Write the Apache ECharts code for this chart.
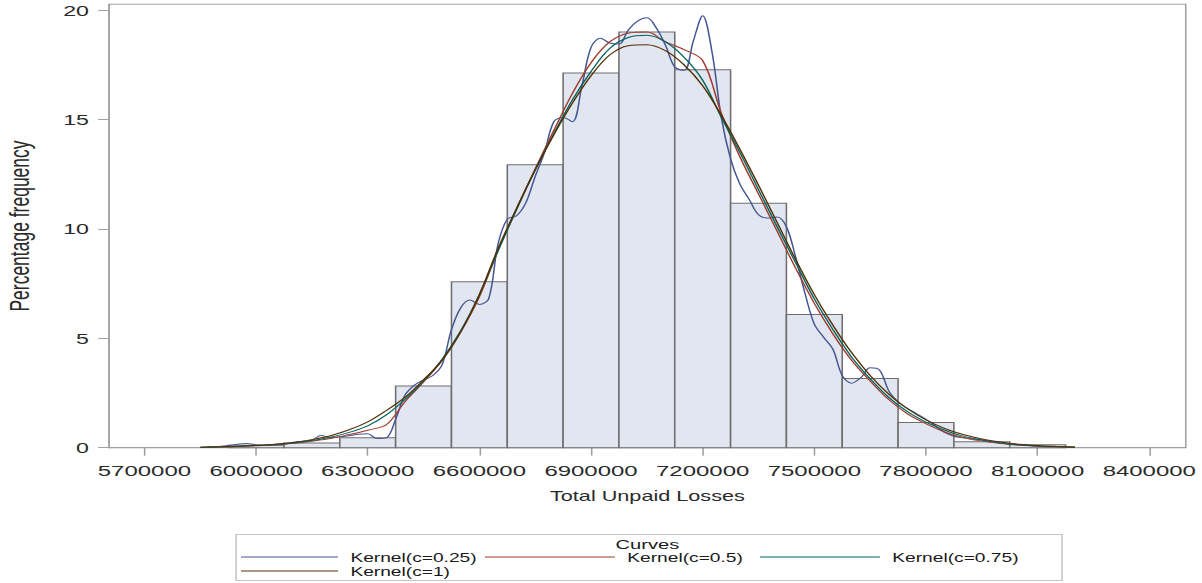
<!DOCTYPE html>
<html><head><meta charset="utf-8">
<script src="https://cdn.jsdelivr.net/npm/echarts@6/dist/echarts.min.js"></script>
<style>
html,body{margin:0;padding:0;background:#fff;overflow:hidden;width:1202px;height:583px;}
#wrap{width:1202px;height:583px;overflow:hidden;}
#chart{width:777px;height:583px;transform:scaleX(1.546975);transform-origin:0 0;}
</style></head><body><div id="wrap"><div id="chart"></div></div>
<script>
// ---- data ----
const xTickLabels = [5700000, 6000000, 6300000, 6600000, 6900000, 7200000, 7500000, 7800000, 8100000, 8400000];
const yTickLabels = [0, 5, 10, 15, 20];
const binWidth = 150000;
const binCenters = [6000000, 6150000, 6300000, 6450000, 6600000, 6750000, 6900000, 7050000, 7200000, 7350000, 7500000, 7650000, 7800000, 7950000, 8100000];
const binPercents = [0.11, 0.22, 0.45, 2.82, 7.59, 12.93, 17.13, 19.0, 17.28, 11.17, 6.09, 3.16, 1.15, 0.27, 0.14];
const curveNames = ['Kernel(c=0.25)', 'Kernel(c=0.5)', 'Kernel(c=0.75)', 'Kernel(c=1)'];
const legendTitle = 'Curves';

const x50 = [5850000, 5900000, 5950000, 6000000, 6050000, 6100000, 6150000, 6200000, 6250000, 6300000,
  6350000, 6400000, 6450000, 6500000, 6550000, 6600000, 6650000, 6700000, 6750000, 6800000,
  6850000, 6900000, 6950000, 7000000, 7050000, 7100000, 7150000, 7200000, 7250000, 7300000,
  7350000, 7400000, 7450000, 7500000, 7550000, 7600000, 7650000, 7700000, 7750000, 7800000,
  7850000, 7900000, 7950000, 8000000, 8050000, 8100000, 8150000, 8200000];
const kernel050 = [0.01, 0.03, 0.05, 0.09, 0.13, 0.2, 0.3, 0.42, 0.6, 0.8,
  1.05, 2.1, 3.0, 4.0, 5.3, 6.9, 9.0, 10.9, 12.75, 14.5,
  16.2, 17.6, 18.55, 18.95, 19.0, 18.55, 18.2, 17.7, 15.3, 13.3,
  11.6, 9.9, 8.2, 6.6, 5.2, 4.0, 3.05, 2.2, 1.55, 1.1,
  0.72, 0.47, 0.3, 0.19, 0.12, 0.07, 0.04, 0.02];
const kernel075 = [0.01, 0.03, 0.06, 0.1, 0.15, 0.22, 0.33, 0.48, 0.7, 1.0,
  1.5, 2.2, 3.05, 4.05, 5.35, 7.0, 9.0, 10.9, 12.7, 14.35,
  15.9, 17.2, 18.25, 18.75, 18.85, 18.55, 17.85, 16.8, 15.1, 13.5,
  11.8, 10.1, 8.45, 6.8, 5.4, 4.15, 3.15, 2.3, 1.65, 1.17,
  0.8, 0.53, 0.35, 0.22, 0.14, 0.08, 0.05, 0.02];
const kernel100 = [0.02, 0.04, 0.07, 0.11, 0.16, 0.24, 0.37, 0.55, 0.82, 1.18,
  1.7, 2.3, 3.1, 4.0, 5.3, 7.0, 9.1, 10.95, 12.7, 14.3,
  15.75, 17.0, 17.95, 18.38, 18.42, 18.15, 17.5, 16.55, 15.2, 13.65,
  12.0, 10.3, 8.6, 7.0, 5.6, 4.35, 3.3, 2.45, 1.78, 1.27,
  0.88, 0.6, 0.4, 0.26, 0.16, 0.1, 0.06, 0.03];

const x25 = [5850000, 5875000, 5900000, 5925000, 5950000, 5975000, 6000000, 6025000, 6050000, 6075000,
  6100000, 6125000, 6150000, 6175000, 6200000, 6225000, 6250000, 6275000, 6300000, 6325000,
  6350000, 6375000, 6400000, 6425000, 6450000, 6475000, 6500000, 6525000, 6550000, 6575000,
  6600000, 6625000, 6650000, 6675000, 6700000, 6725000, 6750000, 6775000, 6800000, 6825000,
  6850000, 6875000, 6900000, 6925000, 6950000, 6975000, 7000000, 7025000, 7050000, 7075000,
  7100000, 7125000, 7150000, 7175000, 7200000, 7225000, 7250000, 7275000, 7300000, 7325000,
  7350000, 7375000, 7400000, 7425000, 7450000, 7475000, 7500000, 7525000, 7550000, 7575000,
  7600000, 7625000, 7650000, 7675000, 7700000, 7725000, 7750000, 7775000, 7800000, 7825000,
  7850000, 7875000, 7900000, 7925000, 7950000, 7975000, 8000000, 8050000, 8100000, 8150000, 8200000];
const kernel025 = [0.02, 0.04, 0.06, 0.1, 0.16, 0.19, 0.13, 0.1, 0.12, 0.16,
  0.25, 0.3, 0.35, 0.56, 0.45, 0.5, 0.55, 0.62, 0.64, 0.42,
  0.45, 1.3, 2.4, 2.85, 3.1, 3.3, 3.8, 5.4, 6.4, 6.75,
  6.55, 6.8, 9.3, 10.45, 10.6, 11.2, 12.4, 13.5, 14.9, 15.1,
  14.9, 16.5, 18.3, 18.72, 18.5, 18.45, 19.1, 19.5, 19.65, 19.2,
  18.4, 17.4, 17.25, 18.6, 19.75, 18.1, 15.1, 13.2, 12.05, 11.35,
  10.65, 10.5, 10.55, 10.1, 8.7, 7.05, 5.65, 5.05, 4.5, 3.3,
  2.95, 3.2, 3.65, 3.55, 2.6, 2.1, 1.8, 1.55, 1.3, 1.0,
  0.7, 0.52, 0.45, 0.4, 0.35, 0.28, 0.22, 0.12, 0.07, 0.04, 0.02];

// ---- build ----
const pairs = (xs, ys) => xs.map((x, i) => [x, ys[i]]);
const histData = binCenters.map((c, i) => [c, binPercents[i]]);
const curveColors = ['#445694', '#A23A2E', '#01665E', '#543005'];
const curveData = [pairs(x25, kernel025), pairs(x50, kernel050), pairs(x50, kernel075), pairs(x50, kernel100)];

const chart = echarts.init(document.getElementById('chart'), null, {renderer: 'svg'});
const font = "'Liberation Sans', Arial, sans-serif";
const axisGray = '#a0a0a0';

// legend entry placement (SAS-style column layout)
const legendSlots = [
  {left: 155.8, top: 551, w: 62.7},
  {left: 313.5, top: 551, w: 84},
  {left: 491.3, top: 551, w: 77.5},
  {left: 155.8, top: 565, w: 62.7}
];
const legends = curveNames.map((n, i) => ({
  data: [n], left: legendSlots[i].left, top: legendSlots[i].top, padding: 0,
  icon: 'rect', itemWidth: legendSlots[i].w, itemHeight: 1, itemGap: 0,
  textStyle: {fontSize: 12.4, color: '#1a1a1a', lineHeight: 12, padding: [0, 0, 0, 3]}
}));

chart.setOption({
  animation: false,
  textStyle: {fontFamily: font},
  grid: {left: 70.5, right: 10.5, top: 4.3, bottom: 135.3, containLabel: false, outerBoundsMode: 'none',
    show: true, borderColor: axisGray, borderWidth: 1, backgroundColor: 'transparent'},
  xAxis: {
    type: 'value', min: 5605000, max: 8498000,
    axisLine: {show: true, lineStyle: {color: axisGray}},
    axisTick: {show: true, length: 8, customValues: xTickLabels, lineStyle: {color: axisGray}},
    axisLabel: {customValues: xTickLabels, fontSize: 15.5, color: '#2a2a2a', margin: 15, formatter: v => String(v)},
    splitLine: {show: false},
    name: 'Total Unpaid Losses', nameLocation: 'middle', nameGap: 41,
    nameTextStyle: {fontSize: 14, color: '#2a2a2a'}
  },
  yAxis: {
    type: 'value', min: 0, max: 20.27,
    axisLine: {show: true, lineStyle: {color: axisGray}},
    axisTick: {show: true, length: 7, customValues: yTickLabels, lineStyle: {color: axisGray}},
    axisLabel: {customValues: yTickLabels, fontSize: 15, color: '#2a2a2a', margin: 13},
    splitLine: {show: false},
    name: 'Percentage frequency', nameLocation: 'middle', nameGap: 49, nameRotate: 90,
    nameTextStyle: {fontSize: 17.5, color: '#2a2a2a'}
  },
  legend: legends,
  graphic: [
    {type: 'rect', shape: {x: 152.6, y: 534.5, width: 533.9, height: 46}, style: {fill: 'none', stroke: '#c4c4c4', lineWidth: 1}, silent: true},
    {type: 'text', x: 418.5, y: 545, style: {text: legendTitle, fontSize: 13, fontFamily: font, fill: '#1a1a1a', align: 'center', verticalAlign: 'middle'}}
  ],
  series: [
    {
      type: 'custom', name: 'Histogram', data: histData, z: 1,
      renderItem: function (params, api) {
        const c = api.value(0), v = api.value(1);
        const p0 = api.coord([c - binWidth / 2, v]);
        const p1 = api.coord([c + binWidth / 2, 0]);
        return {type: 'rect', shape: {x: p0[0], y: p0[1], width: p1[0] - p0[0], height: p1[1] - p0[1]},
          style: {fill: '#e1e6f0', stroke: '#6e6e6e', lineWidth: 1}};
      }
    }
  ].concat(curveNames.map((n, i) => ({
    type: 'line', name: n, data: curveData[i], showSymbol: false, smooth: 0.35, z: 3 + i,
    lineStyle: {color: curveColors[i], width: 1}, itemStyle: {color: curveColors[i]}
  })))
});
</script></body></html>
